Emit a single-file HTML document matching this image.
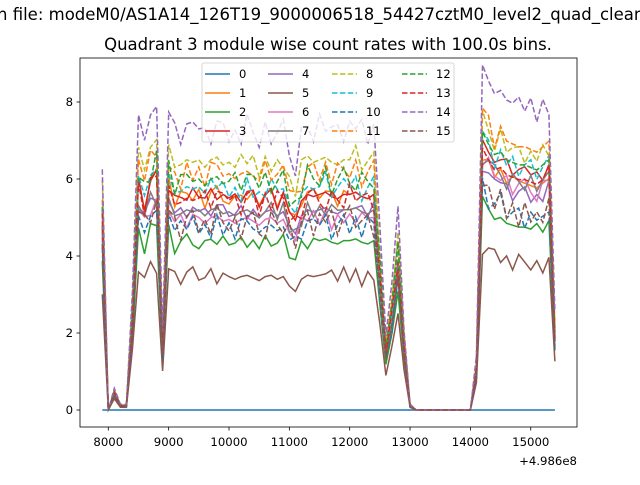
<!DOCTYPE html>
<html><head><meta charset="utf-8"><style>
html,body{margin:0;padding:0;background:#fff;}
svg text{font-family:"DejaVu Sans","Liberation Sans",sans-serif;}
</style></head><body>
<svg id="chart" width="640" height="480" viewBox="0 0 640 480" xmlns="http://www.w3.org/2000/svg">
<rect width="640" height="480" fill="#fff"/>
<text x="-3" y="20" font-size="16.5" fill="#000">n file: modeM0/AS1A14_126T19_9000006518_54427cztM0_level2_quad_clean.evt</text>
<text x="328" y="50" font-size="16.5" text-anchor="middle" fill="#000">Quadrant 3 module wise count rates with 100.0s bins.</text>
<g id="plot"></g>
<g id="axes"></g>
<g id="legend"></g>
</svg>
<script>
const times = [];
for (let k = 7900; k <= 15400; k += 100) times.push(k);
// shared normalized light-curve shape, one value per 100 s bin (7900..15400)
const profile = [0.88,0.0,0.08,0.02,0.02,0.42,1.05,0.96,1.05,1.08,0.28,1.06,0.97,0.98,1.0,0.99,1.0,0.97,1.0,1.01,0.98,0.99,0.97,0.99,1.0,0.98,0.96,0.99,1.0,0.97,0.99,0.92,0.88,0.97,1.0,0.99,1.0,1.01,0.99,0.98,1.0,1.0,1.01,0.99,0.98,1.0,0.62,0.27,0.45,0.7,0.3,0.02,0.0,0.0,0.0,0.0,0.0,0.0,0.0,0.0,0.0,0.0,0.17,1.08,1.03,0.99,1.0,0.97,0.96,0.95,0.95,0.94,0.93,0.95,0.97,0.3];
// extra noise pattern (count units)
const wiggle = [0,0,0,0,0,0,0.3,-0.2,0.1,0.2,0,0.2,-0.3,0.1,0.25,-0.2,0.15,-0.25,0.3,0.05,-0.15,0.2,-0.3,0.1,0.25,-0.1,-0.3,0.2,0.05,-0.2,0.3,-0.1,0.1,0.2,-0.25,0.15,-0.05,0.25,-0.2,0.1,0.3,-0.15,0.05,0.2,-0.3,0.15,0,0,0,0,0,0,0,0,0,0,0,0,0,0,0,0,0,0.2,-0.1,0.25,-0.2,0.15,-0.3,0.2,-0.15,0.1,-0.2,0.2,0.1,0];
// per-series plateau levels (first plateau, second plateau)
const level1 = [0,5.6,4.4,5.6,5.2,3.5,5.0,5.2,6.5,5.8,4.8,6.2,6.0,5.5,7.3,4.9];
const level2 = [0,6.2,5.0,6.5,5.9,4.0,6.1,6.2,7.0,6.6,5.3,7.2,6.7,6.3,8.3,5.4];
const xTicks = [8000,9000,10000,11000,12000,13000,14000,15000];
const xTickLabels = ["8000","9000","10000","11000","12000","13000","14000","15000"];
const yTicks = [0,2,4,6,8];
const colors = ["#1f77b4","#ff7f0e","#2ca02c","#d62728","#9467bd","#8c564b","#e377c2","#7f7f7f","#bcbd22","#17becf"];

const L=80,R=577,T=58,B=427;
const xs = v => 108.3 + (v-8000)*0.06035;
const ys = v => 410 - v*38.5;
const NS="http://www.w3.org/2000/svg";
function mk(tag, attrs, parent){const e=document.createElementNS(NS,tag);for(const k in attrs)e.setAttribute(k,attrs[k]);parent.appendChild(e);return e;}

const plot=document.getElementById('plot');
for (let s=0;s<16;s++){
  const pts=[];
  for (let i=0;i<times.length;i++){
    let v=0;
    if (s>0){
      const lev = times[i] < 13500 ? level1[s] : level2[s];
      const w = wiggle[(i + s*5) % wiggle.length] * profile[i];
      v = Math.max(0, profile[i]*lev + w*(0.6+0.05*s));
    }
    pts.push(xs(times[i]).toFixed(1)+","+ys(v).toFixed(1));
  }
  const pl=mk('polyline',{points:pts.join(' '),fill:'none',stroke:colors[s%10],'stroke-width':1.5},plot);
  
  
  if (s>=8) pl.setAttribute('stroke-dasharray','5.5,2.4');
}
const ax=document.getElementById('axes');
const frame=mk('rect',{x:L,y:T,width:R-L,height:B-T,fill:'none',stroke:'#000','stroke-width':0.8},ax);


xTicks.forEach((t,i)=>{
  const x=xs(t);
  mk('line',{x1:x,x2:x,y1:B,y2:B+3.5,stroke:'#000','stroke-width':0.8},ax);
  const tx=mk('text',{x:x,y:B+19,'font-size':11.7,'text-anchor':'middle'},ax);
  tx.textContent=xTickLabels[i];
  
  
});
yTicks.forEach(t=>{
  const y=ys(t);
  mk('line',{x1:L-3.5,x2:L,y1:y,y2:y,stroke:'#000','stroke-width':0.8},ax);
  const tx=mk('text',{x:L-7,y:y+4.2,'font-size':11.7,'text-anchor':'end'},ax);
  tx.textContent=String(t);
  
  
});
const off=mk('text',{x:577,y:465,'font-size':11.7,'text-anchor':'end'},ax);
off.textContent='+4.986e8';



const lg=document.getElementById('legend');
mk('rect',{x:202,y:63,width:252,height:79,rx:2,fill:'#fff','fill-opacity':0.8,stroke:'#ccc','stroke-width':0.8},lg);
const colX=[205,268,332,402];
for (let s=0;s<16;s++){
  const c=Math.floor(s/4), r=s%4;
  const y=74+r*19;
  const g=mk('g',{},lg);
  
  
  const ln=mk('line',{x1:colX[c],x2:colX[c]+25,y1:y,y2:y,stroke:colors[s%10],'stroke-width':1.5},g);
  if (s>=8) ln.setAttribute('stroke-dasharray','5.5,2.4');
  const tx=mk('text',{x:colX[c]+34,y:y+4,'font-size':11.5},g);
  tx.textContent=String(s);
}
</script>
</body></html>
